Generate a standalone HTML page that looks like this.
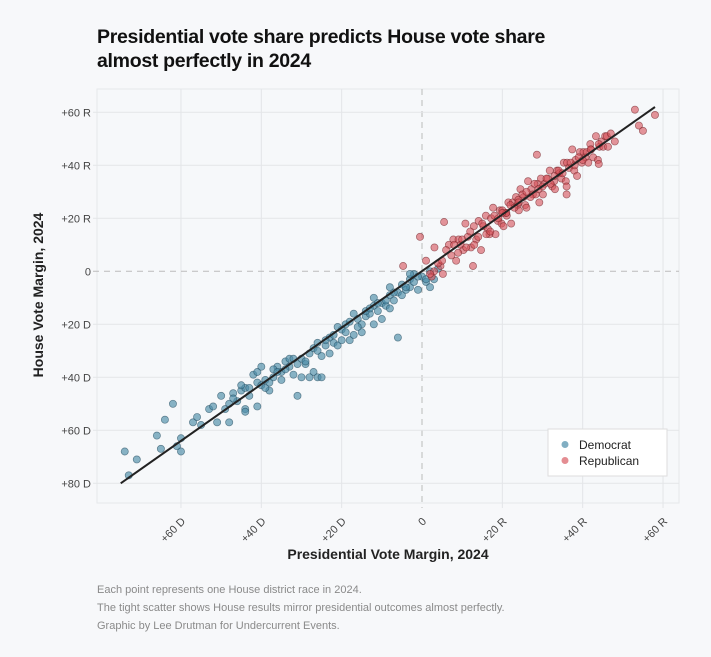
<!DOCTYPE html>
<html><head><meta charset="utf-8"><style>
html,body{margin:0;padding:0;background:#f7f8fa;}
body{width:711px;height:657px;position:relative;font-family:"Liberation Sans",sans-serif;overflow:hidden;}
.title{position:absolute;left:97px;top:25px;font-size:19.5px;font-weight:bold;color:#111;line-height:24px;letter-spacing:-0.3px;}
.cap{position:absolute;left:97px;font-size:11px;color:#8a8a8a;}
</style></head><body>
<div class="title">Presidential vote share predicts House vote share<br>almost perfectly in 2024</div>
<svg id="chart" width="711" height="657" style="position:absolute;left:0;top:0"></svg>
<div class="cap" style="top:584px">Each point represents one House district race in 2024.</div>
<div class="cap" style="top:602px">The tight scatter shows House results mirror presidential outcomes almost perfectly.</div>
<div class="cap" style="top:620px">Graphic by Lee Drutman for Undercurrent Events.</div>
<script>
const xTicks=[-60,-40,-20,0,20,40,60];
const xTickLabels=["+60 D","+40 D","+20 D","0","+20 R","+40 R","+60 R"];
const yTicks=[60,40,20,0,-20,-40,-60,-80];
const yTickLabels=["+60 R","+40 R","+20 R","0","+20 D","+40 D","+60 D","+80 D"];
const fitLine=[[-75,-80],[58,62]];
const demX=[-74,-73,-71,-66,-65,-62,-64,-61,-60,-60,-57,-56,-55,-53,-52,-51,-50,-49,-48,-47,-46,-45,-44,-44,-43,-42,-41,-41,-40,-39,-38,-37,-36,-35,-35,-34,-33,-32,-31,-30,-30,-29,-28,-27,-27,-26,-25,-24,-23,-23,-22,-21,-20,-20,-19,-18,-17,-16,-15,-15,-14,-13,-12,-12,-11,-10,-10,-9,-8,-8,-7,-6,-6,-5,-5,-4,-3,-3,-2,-1,0,1,2,3,-40,-39,-38,-37,-28,-26,-25,-31,-48,-44,-41,-47,-45,-43,-36,-34,-33,-29,-24,-22,-21,-19,-18,-17,-14,-13,-11,-9,-7,-4,-2,-1,1,2,4,-16,-12,-8,-3,-32,-26];
const demY=[-68,-77,-71,-62,-67,-50,-56,-66,-68,-63,-57,-55,-58,-52,-51,-57,-47,-52,-50,-46,-49,-45,-52,-44,-47,-39,-38,-42,-43,-41,-45,-40,-36,-38,-41,-34,-36,-39,-35,-33,-40,-35,-31,-38,-29,-30,-32,-28,-25,-31,-27,-28,-22,-26,-23,-26,-24,-18,-20,-23,-17,-16,-20,-13,-15,-12,-18,-13,-9,-14,-11,-8,-25,-9,-5,-7,-6,-3,-4,-7,-2,-4,-6,-3,-36,-44,-42,-37,-40,-40,-40,-47,-57,-53,-51,-48,-43,-44,-38,-37,-33,-34,-26,-24,-21,-20,-19,-16,-15,-14,-12,-11,-8,-6,-1,-2,-3,0,1,-21,-10,-6,-1,-33,-27];
const repX=[-0.5,-4.7,5.5,12.7,1,2.4,3.1,4.6,5.2,6.7,7.3,7.8,8.5,9.1,9.6,10.3,10.8,11.4,12.2,12.9,13.5,14.1,14.7,15.3,15.9,16.4,16.8,17.2,17.7,18.3,18.9,19.4,19.8,20.3,20.9,21.5,21.1,22.6,22.2,23.4,23.8,24.5,24.1,25.3,25.7,26.4,26.0,27.2,27.6,28.3,28.8,29.2,29.6,30.5,30.1,31.3,31.8,32.4,32.9,33.1,33.6,34.2,34.7,35.3,35.8,36.1,36.6,37.4,37.9,38.2,38.6,39.3,39.8,40.2,40.7,41.4,41.9,42.1,42.6,43.3,43.8,44.2,44.7,45.1,45.6,46.3,28.6,53,58,54,55,44,36,36,3,4,6,8,10,11,12,14,15,16,18,19,20,21,22,23,24,25,26,27,28,30,31,33,34,35,37,38,39,41,42,44,46,47,2,5,9,13,17,20,24,29,32,40,48];
const repY=[13,2,18.6,2,4,-2,9,2,-1,10,6,12,4,12,10,8,18,13,9,17,12,19,8,17,21,16,14,20,24,14,19,23,18,17,22,26,21,26,18,28,25,31,23,28,25,34,24,31,29,29,33,26,35,33,29,35,38,32,34,31,38,37,35,41,34,41,39,46,38,42,36,45,41,45,43,41,48,46,43,51,42,47,49,47,51,47,44,61,59,55,53,40.5,29,32,0,3,8,10,12,9,15,13,18,14,21,20,23,22,25,24,27,29,30,28,33,32,35,36,38,37,41,40,43,45,46,48,51,52,-1,4,7,10,15,22,26,31,33,42,49];
const svg=document.getElementById('chart');
const NS='http://www.w3.org/2000/svg';
const L=97,R=679,T=89,B=503;
function xs(v){return 422+4.017*v;}
function ys(v){return 271.3-2.65*v;}
function mk(tag,attrs,parent){const e=document.createElementNS(NS,tag);for(const k in attrs)e.setAttribute(k,attrs[k]);(parent||svg).appendChild(e);return e;}
const bg=mk('rect',{x:L,y:T,width:R-L,height:B-T,fill:'#f6f8fa',stroke:'#e6e8eb'});


xTicks.forEach((v,i)=>{
 const g=mk('line',{x1:xs(v),x2:xs(v),y1:T,y2:B+5,stroke:v===0?'#bbb':'#e3e5e8','stroke-width':1,'stroke-dasharray':v===0?'6,5':'none'});
 
 
 const t=mk('text',{x:xs(v)+5,y:B+19,'font-size':11,fill:'#444','text-anchor':'end',transform:`rotate(-45 ${xs(v)+5} ${B+19})`,'font-family':'Liberation Sans, sans-serif'});
 t.textContent=xTickLabels[i];
 
 
});
yTicks.forEach((v,i)=>{
 const g=mk('line',{x1:L-4,x2:R,y1:ys(v),y2:ys(v),stroke:v===0?'#bbb':'#e3e5e8','stroke-width':1,'stroke-dasharray':v===0?'6,5':'none'});
 
 
 const t=mk('text',{x:L-6,y:ys(v)+4,'font-size':11,fill:'#444','text-anchor':'end','font-family':'Liberation Sans, sans-serif'});
 t.textContent=yTickLabels[i];
 
 
});
demX.forEach((v,i)=>{
 const c=mk('circle',{cx:xs(v),cy:ys(demY[i]),r:3.6,fill:'rgba(76,140,168,0.65)',stroke:'rgba(30,70,90,0.6)','stroke-width':0.7});
 
 
});
repX.forEach((v,i)=>{
 const c=mk('circle',{cx:xs(v),cy:ys(repY[i]),r:3.6,fill:'rgba(214,80,88,0.6)',stroke:'rgba(110,30,35,0.6)','stroke-width':0.7});
 
 
});
const fl=mk('line',{x1:xs(fitLine[0][0]),y1:ys(fitLine[0][1]),x2:xs(fitLine[1][0]),y2:ys(fitLine[1][1]),stroke:'#222','stroke-width':2});


const lg=mk('g',{});


mk('rect',{x:548,y:429,width:119,height:47,fill:'#fff',stroke:'#ddd'},lg);
const d1=mk('circle',{cx:565,cy:444.5,r:3.5,fill:'rgba(76,140,168,0.7)'},lg);


const t1=mk('text',{x:579,y:449,'font-size':12,fill:'#222'},lg);t1.textContent='Democrat';
const d2=mk('circle',{cx:565,cy:460.5,r:3.5,fill:'rgba(214,80,88,0.65)'},lg);


const t2=mk('text',{x:579,y:465,'font-size':12,fill:'#222'},lg);t2.textContent='Republican';
const xt=mk('text',{x:388,y:559,'font-size':14,'font-weight':'bold',fill:'#222','text-anchor':'middle'});
xt.textContent='Presidential Vote Margin, 2024';


const yt=mk('text',{x:43,y:295,'font-size':14,'font-weight':'bold',fill:'#222','text-anchor':'middle',transform:'rotate(-90 43 295)'});
yt.textContent='House Vote Margin, 2024';


</script>
</body></html>
